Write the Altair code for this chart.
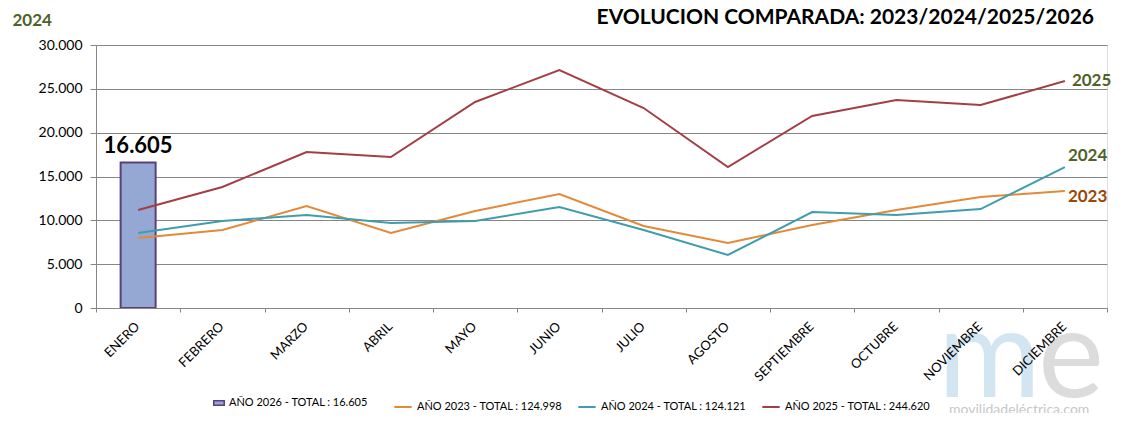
import altair as alt
import pandas as pd

months = ["ENERO", "FEBRERO", "MARZO", "ABRIL", "MAYO", "JUNIO", "JULIO",
          "AGOSTO", "SEPTIEMBRE", "OCTUBRE", "NOVIEMBRE", "DICIEMBRE"]
v2023 = [7990, 8900, 11630, 8560, 11070, 13000, 9350, 7410, 9470, 11180, 12660, 13350]
v2024 = [8560, 9920, 10610, 9700, 9920, 11520, 8900, 6050, 10950, 10610, 11290, 16080]
v2025 = [11180, 13800, 17800, 17220, 23500, 27150, 22810, 16080, 21900, 23730, 23160, 25890]
bar_months = ["ENERO"]
v2026 = [16605]

title_text = "EVOLUCION COMPARADA: 2023/2024/2025/2026"
lbl2026 = "AÑO 2026 - TOTAL : 16.605"
line_labels = ["AÑO 2023 - TOTAL : 124.998", "AÑO 2024 - TOTAL : 124.121",
               "AÑO 2025 - TOTAL : 244.620"]
line_colors = ["#E3893A", "#3F9DAE", "#A33F44"]
end_years = ["2023", "2024", "2025"]
end_colors = ["#984807", "#4F6228", "#4F6228"]

FONT = "Lato"

rows = []
for lab, yr, vals in zip(line_labels, end_years, [v2023, v2024, v2025]):
    for m, v in zip(months, vals):
        rows.append({"mes": m, "valor": v, "serie": lab, "anio": yr})
lines_df = pd.DataFrame(rows)
bar_df = pd.DataFrame({"mes": bar_months, "valor": v2026, "serie": [lbl2026]})

xenc = alt.X("mes:N", sort=months,
             scale=alt.Scale(domain=months, paddingInner=0, paddingOuter=0),
             axis=alt.Axis(title=None, labelAngle=-45, labelAlign="right",
                           labelBaseline="middle", labelFontSize=13, labelFont=FONT,
                           labelColor="#000000", labelPadding=12, labelOffset=-1,
                           tickBand="extent", tickSize=4, tickColor="#868686",
                           domainColor="#868686", labelOverlap=False, zindex=1))
yenc = alt.Y("valor:Q",
             scale=alt.Scale(domain=[0, 30000], nice=False),
             axis=alt.Axis(values=[0, 5000, 10000, 15000, 20000, 25000, 30000],
                           labelExpr="replace(format(datum.value, ','), ',', '.')",
                           labelFontSize=14, labelFont=FONT, labelColor="#000000",
                           labelPadding=8, tickSize=6, tickColor="#868686",
                           domainColor="#868686", gridColor="#868686",
                           title="2024", titleAngle=0, titleX=-84, titleY=-25,
                           titleBaseline="middle",
                           titleFontSize=17, titleFont=FONT, titleFontWeight="bold",
                           titleColor="#4F6228", titleAlign="left"))

bars = alt.Chart(bar_df).mark_bar(size=35, stroke="#5B3F7E", strokeWidth=2).encode(
    x=xenc, y=yenc,
    fill=alt.Fill("serie:N", scale=alt.Scale(domain=[lbl2026], range=["#94A8D3"]),
                  legend=alt.Legend(title=None, orient="none", legendX=117, legendY=352,
                                    symbolType="M-1,-0.42H1V0.42H-1Z", symbolSize=110,
                                    symbolStrokeColor="#5B3F7E", symbolStrokeWidth=1.5,
                                    labelFontSize=11, labelFont=FONT, labelColor="#000000",
                                    labelLimit=300))
)
bar_text = alt.Chart(bar_df).transform_calculate(
    lbl="replace(format(datum.valor, ','), ',', '.')"
).mark_text(fontSize=22, fontWeight="bold", font=FONT,
            baseline="bottom", dy=-4, color="#000000").encode(
    x=xenc, y=yenc, text="lbl:N")

lines = alt.Chart(lines_df).mark_line(strokeWidth=2).encode(
    x=xenc, y=yenc,
    color=alt.Color("serie:N", scale=alt.Scale(domain=line_labels, range=line_colors),
                    legend=alt.Legend(title=None, orient="none", direction="horizontal",
                                      legendX=297, legendY=352, symbolType="stroke",
                                      symbolStrokeWidth=2, symbolSize=300,
                                      columnPadding=11,
                                      labelFontSize=11, labelFont=FONT,
                                      labelColor="#000000", labelLimit=300))
)

offsets = {"2023": (3, 6), "2024": (3, -11), "2025": (7, 0)}
end_layers = []
for yr, col in zip(end_years, end_colors):
    dx, dy = offsets[yr]
    end_layers.append(
        alt.Chart(lines_df).transform_filter(
            (alt.datum.anio == yr) & (alt.datum.mes == "DICIEMBRE")
        ).mark_text(align="left", baseline="middle", fontSize=17, fontWeight="bold",
                    font=FONT, color=col, dx=dx, dy=dy).encode(
            x=xenc, y=yenc, text="anio:N")
    )

title_layer = alt.Chart(pd.DataFrame({"t": [title_text]})).mark_text(
    fontSize=21, font=FONT, fontWeight="bold", color="#000000",
    align="right", baseline="middle"
).encode(x=alt.value(998), y=alt.value(-27), text="t:N")

wm_m = alt.Chart(pd.DataFrame({"t": ["m"]})).mark_text(
    fontSize=125, font=FONT, color="#D3E5F0", align="left", baseline="alphabetic"
).encode(x=alt.value(842), y=alt.value(352), text="t:N")
wm_e = alt.Chart(pd.DataFrame({"t": ["e"]})).mark_text(
    fontSize=125, font=FONT, color="#DCDCDC", align="left", baseline="alphabetic"
).encode(x=alt.value(942), y=alt.value(352), text="t:N")
wm_t = alt.Chart(pd.DataFrame({"t": ["movilidadeléctrica.com"]})).mark_text(
    fontSize=14, font=FONT, color="#C8C8C8", align="left", baseline="middle"
).encode(x=alt.value(853), y=alt.value(365), text="t:N")

chart = alt.layer(wm_m, wm_e, wm_t, bars, lines, bar_text, title_layer,
                  *end_layers).resolve_legend(
    color="independent", fill="independent"
).properties(
    width=1011, height=263,
    autosize=alt.AutoSizeParams(type="none"),
    padding={"left": 88, "top": 37, "right": 27, "bottom": 105},
).configure_view(stroke=None).configure(background="#FFFFFF")

chart.save("out.html", embed_options={"renderer": "svg", "actions": False})
